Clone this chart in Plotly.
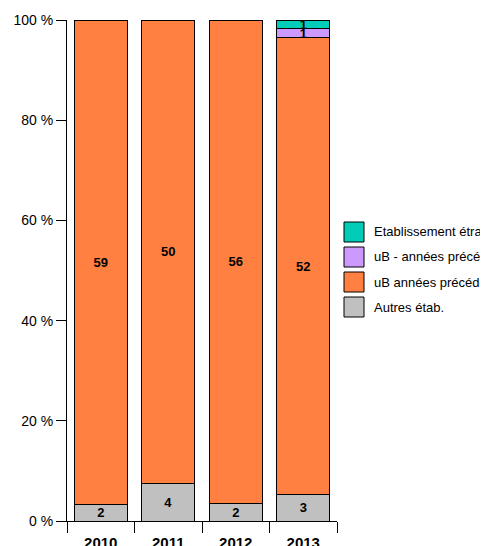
import plotly.graph_objects as go

years = ["2010", "2011", "2012", "2013"]
autres = [2, 4, 2, 3]
ub_prec = [59, 50, 56, 52]
ub_dash_prec = [None, None, None, 1]
etranger = [None, None, None, 1]
y_ticks = [0, 20, 40, 60, 80, 100]
y_tick_labels = ["0 %", "20 %", "40 %", "60 %", "80 %", "100 %"]

series = [
    ("Autres étab.", autres, "#C0C0C0"),
    ("uB années précédentes", ub_prec, "#FF8040"),
    ("uB - années précédentes", ub_dash_prec, "#CC99FF"),
    ("Etablissement étranger", etranger, "#00CCB8"),
]

fig = go.Figure()
for name, vals, color in series:
    fig.add_trace(go.Bar(
        x=years, y=vals, name=name, showlegend=False,
        marker=dict(color=color, line=dict(color="black", width=1)),
        text=[("" if v is None else str(v)) for v in vals],
        textposition="inside", insidetextanchor="middle", textangle=0,
        textfont=dict(family="Liberation Sans, Arial", size=13, color="black", weight="bold"),
        cliponaxis=False,
    ))

# Manual legend (legend order: top entry is last series)
PLOT_L, PLOT_W, PLOT_B, PLOT_H = 59, 270, 513, 501
def px_x(fx):
    return (fx - PLOT_L) / PLOT_W
def px_y(fy):
    return (PLOT_B - fy) / PLOT_H

shapes = []
annotations = []
for i, (name, vals, color) in enumerate(reversed(series)):
    top = 214 + 25 * i
    shapes.append(dict(type="rect", xref="paper", yref="paper",
                       x0=px_x(336), x1=px_x(356), y0=px_y(top), y1=px_y(top + 20),
                       fillcolor=color, line=dict(color="black", width=1)))
    annotations.append(dict(xref="paper", yref="paper", x=px_x(364), y=px_y(top + 10),
                            xanchor="left", yanchor="middle", text=name, showarrow=False,
                            font=dict(family="Liberation Sans, Arial", size=13, color="black")))

fig.update_layout(
    barmode="stack", barnorm="percent", bargap=0.21,
    width=480, height=538,
    margin=dict(l=59, r=151, t=12, b=25, autoexpand=False),
    plot_bgcolor="white", paper_bgcolor="white",
    font=dict(family="Liberation Sans, Arial", size=14, color="black"),
    uniformtext=dict(minsize=13, mode="show"),
    showlegend=False,
    shapes=shapes,
    annotations=annotations,
)
fig.update_yaxes(range=[0, 100], tickmode="array", tickvals=y_ticks, ticktext=y_tick_labels,
                 showgrid=False, showline=True, linecolor="black", linewidth=1,
                 ticks="outside", ticklen=10, tickcolor="black", zeroline=False,
                 tickfont=dict(size=14))
fig.update_xaxes(showgrid=False, showline=True, linecolor="black", linewidth=1,
                 ticks="outside", tickson="boundaries", ticklen=11, tickcolor="black",
                 ticklabelstandoff=8,
                 tickfont=dict(size=15, weight="bold"))

fig.write_html("out.html")
